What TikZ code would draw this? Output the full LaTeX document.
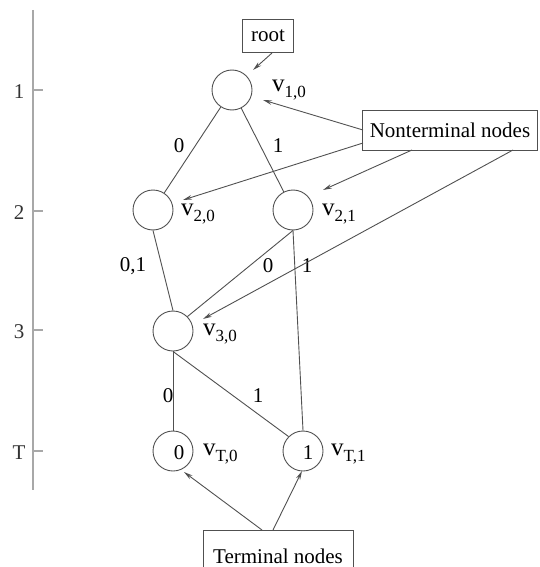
\documentclass[tikz,border=0pt]{standalone}
\usepackage{fontspec}
\setmainfont{Liberation Serif}
\usetikzlibrary{arrows.meta}
\definecolor{linec}{HTML}{505050}
\definecolor{axisc}{HTML}{A8A8A8}
\tikzset{
  vert/.style={circle,draw=linec,line width=0.9pt,minimum size=40pt,inner sep=0pt},
  edge/.style={draw=linec,line width=0.9pt},
  ptr/.style={draw=linec,line width=0.9pt,-{Stealth[length=9pt,width=4.5pt,open]}},
  box/.style={draw=linec,line width=0.9pt,inner sep=0pt},
  txt/.style={font=\fontsize{21}{21}\selectfont,inner sep=0pt},
  vlab/.style={anchor=west,inner sep=0pt},
  axis/.style={draw=axisc,line width=1.8pt},
}
\newcommand{\vl}[1]{{\fontsize{25}{25}\selectfont v}\raisebox{-6pt}{\fontsize{17}{17}\selectfont #1}}
\begin{document}
\begin{tikzpicture}[x=1pt,y=-1pt]
\useasboundingbox (0,0) rectangle (539,567);
\clip (0,0) rectangle (539,567);
% axis
\coordinate (atop) at (33,10);
\coordinate (abot) at (33,490);
\draw[axis] (atop) -- (abot);
\foreach \yy/\lab/\nm in {90/1/a1,211/2/a2,330/3/a3,451/T/aT}{
  \coordinate (\nm) at (33,\yy);
  \coordinate (\nm e) at (43,\yy);
  \draw[axisc,line width=1.2pt] (\nm) -- (\nm e);
  \node[txt,text=black!80] (\nm l) at (19,\yy+2) {\lab};
}
% vertices
\node[vert] (v10) at (232,90) {};
\node[vert] (v20) at (153,210) {};
\node[vert] (v21) at (293,210) {};
\node[vert] (v30) at (173,331) {};
\node[vert] (vT0) at (173,451) {};
\node[vert] (vT1) at (303,451) {};
\node[txt] (vT0n) at (179,453) {0};
\node[txt] (vT1n) at (308,453) {1};
% vertex labels
\node[vlab] (l10) at (272,90) {\vl{1,0}};
\node[vlab] (l20) at (181,214) {\vl{2,0}};
\node[vlab] (l21) at (322,214) {\vl{2,1}};
\node[vlab] (l30) at (203,334) {\vl{3,0}};
\node[vlab] (lT0) at (203,454) {\vl{T,0}};
\node[vlab] (lT1) at (331,454) {\vl{T,1}};
% edges
\draw[edge] (v10) -- (v20);
\draw[edge] (v10) -- (v21);
\draw[edge] (v20.south) -- (v30.north);
\draw[edge] (v21.south) -- (v30.north east);
\draw[edge] (v21.south) -- (vT1.north);
\draw[edge] (v30.south) -- (vT0.north);
\draw[edge] (v30.south) -- (vT1.north west);
% edge labels
\node[txt] (e1) at (179,146) {0};
\node[txt] (e2) at (278,146) {1};
\node[txt] (e3) at (133,266) {0,1};
\node[txt] (e4) at (268,266) {0};
\node[txt] (e5) at (307,266) {1};
\node[txt] (e6) at (168,396) {0};
\node[txt] (e7) at (258,396) {1};
% boxes
\node[box,txt,draw=linec,minimum width=51pt,minimum height=33pt] (root) at (268,36) {root};
\node[box,txt,draw=linec,minimum width=175pt,minimum height=40pt] (nt) at (450,130) {Nonterminal nodes};
\node[box,txt,draw=linec,minimum width=150pt,minimum height=52pt] (term) at (278,556) {Terminal nodes};
% pointer ends
\coordinate (r1) at (272,53);
\coordinate (t10) at (253,70);
\coordinate (n1) at (363,130);
\coordinate (p10) at (263,100);
\coordinate (n2) at (363,143);
\coordinate (p20) at (183,200);
\coordinate (n3) at (412,150);
\coordinate (p21) at (323,190);
\coordinate (n4) at (513,150);
\coordinate (p30) at (203,319);
\coordinate (s1) at (262,530);
\coordinate (pT0) at (184,472);
\coordinate (s2) at (273,530);
\coordinate (pT1) at (302,471);
\draw[ptr] (r1) -- (t10);
\draw[ptr] (n1) -- (p10);
\draw[ptr] (n2) -- (p20);
\draw[ptr] (n3) -- (p21);
\draw[ptr] (n4) -- (p30);
\draw[ptr] (s1) -- (pT0);
\draw[ptr] (s2) -- (pT1);
\end{tikzpicture}
\end{document}
